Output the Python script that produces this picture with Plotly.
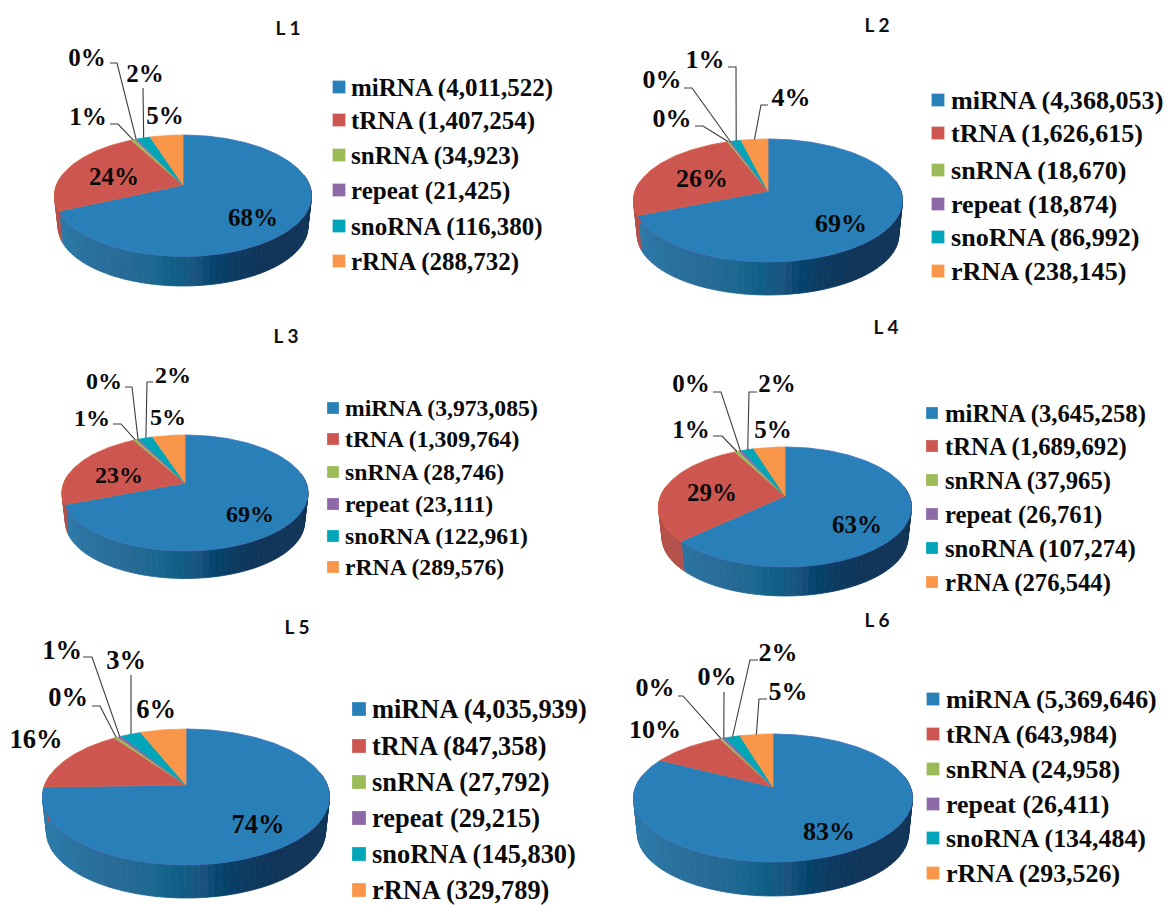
import numpy as np
import plotly.graph_objects as go

categories = ["miRNA", "tRNA", "snRNA", "repeat", "snoRNA", "rRNA"]
panel_names = ["L 1", "L 2", "L 3", "L 4", "L 5", "L 6"]

counts_l1 = [4011522, 1407254, 34923, 21425, 116380, 288732]
counts_l2 = [4368053, 1626615, 18670, 18874, 86992, 238145]
counts_l3 = [3973085, 1309764, 28746, 23111, 122961, 289576]
counts_l4 = [3645258, 1689692, 37965, 26761, 107274, 276544]
counts_l5 = [4035939, 847358, 27792, 29215, 145830, 329789]
counts_l6 = [5369646, 643984, 24958, 26411, 134484, 293526]

percent_l1 = [68, 24, 1, 0, 2, 5]
percent_l2 = [69, 26, 0, 0, 1, 4]
percent_l3 = [69, 23, 1, 0, 2, 5]
percent_l4 = [63, 29, 1, 0, 2, 5]
percent_l5 = [74, 16, 0, 1, 3, 6]
percent_l6 = [83, 10, 0, 0, 2, 5]

all_counts = [counts_l1, counts_l2, counts_l3, counts_l4, counts_l5, counts_l6]
all_percent = [percent_l1, percent_l2, percent_l3, percent_l4, percent_l5, percent_l6]

TOP_COLORS = ["#2980b9", "#cd5750", "#9bbb59", "#8e69a8", "#00a6b8", "#f9964a"]
EDGE_COLORS = ["#3f72bd", "#d9603f", "#9bbb59", "#8e69a8", "#00a6b8", "#f9964a"]
SIDE_FLAT = [None, "#b5504a", "#7d9a45", "#6f5285", "#008593", "#c9783a"]
# Wall shading for the large slice, left to right across the pie
BLUE_STOPS_T = [0.0, 0.12, 0.25, 0.38, 0.47, 0.55, 0.62, 0.7, 0.8, 1.0]
BLUE_STOPS = ["#2c7aa9", "#2a729f", "#2a6b98", "#1c6890", "#0f5f86", "#1c5580",
              "#04456d", "#0e3b62", "#10365a", "#103558"]
SERIF = "Liberation Serif"
# Baseline correction for the bold serif labels
TEXT_NUDGE = 2.5

# Pie geometry: apex, outer extents of the top face, and lowest point of the wall
panels = [
    dict(ax=183, ay=185, left=54.5, right=311.5, top=135, bot=256.5, wall=286, fs=25, pfs=25,
         title=(288, 30), sq_x=339, sq=13, tx=351, ly=[87, 120, 155, 190, 226, 261],
         labels=[(253, 217), (114, 176), (88, 116), (87, 57), (145, 73), (165, 115)],
         leaders={2: [(110, 124), (118, 124)], 3: [(110, 63), (117, 63)], 4: [(143, 88)]}),
    dict(ax=768, ay=191, left=634, right=903, top=139, bot=262, wall=295, fs=26.1, pfs=26,
         title=(877, 27), sq_x=938, sq=13, tx=951, ly=[100, 133, 170, 204, 237, 271],
         labels=[(841, 223), (702, 178), (672, 118), (662, 79), (705, 59), (791, 97)],
         leaders={2: [(695, 126), (703, 126)], 3: [(684, 88), (692, 88)],
                  4: [(728, 67), (736, 67)], 5: [(768, 105), (761, 105)]}),
    dict(ax=185, ay=483, left=62, right=308, top=435, bot=551, wall=578.5, fs=23.7, pfs=24,
         title=(286, 338), sq_x=333, sq=12, tx=345, ly=[408, 439, 472, 504, 536, 567],
         labels=[(250, 513), (119, 474), (92, 417), (104, 380), (173, 374), (168, 416)],
         leaders={2: [(113, 424), (121, 424)], 3: [(125, 387), (132, 387)],
                  4: [(153, 382), (147, 382)]}),
    dict(ax=785, ay=496, left=658, right=911, top=447, bot=567, wall=596, fs=24.7, pfs=25,
         title=(886, 329), sq_x=932, sq=12, tx=945, ly=[413, 446, 480, 514, 548, 582],
         labels=[(857, 524), (712, 492), (691, 429), (691, 383), (777, 383), (773, 429)],
         leaders={2: [(713, 436), (722, 436)], 3: [(713, 392), (721, 392)],
                  4: [(757, 392), (749, 392)]}),
    dict(ax=186, ay=785, left=43, right=330, top=729, bot=865, wall=898, fs=26.4, pfs=26.5,
         title=(297, 629), sq_x=359, sq=14, tx=372, ly=[709, 746, 782, 818, 854, 890],
         labels=[(258, 824), (36, 739), (68, 697), (62, 650), (126, 660), (156, 709)],
         leaders={2: [(92, 706), (100, 706)], 3: [(83, 657), (92, 657)], 4: [(131, 675)]}),
    dict(ax=773, ay=787, left=634, right=913, top=734, bot=862, wall=896, fs=25.9, pfs=26,
         title=(877, 622), sq_x=933, sq=13, tx=946, ly=[699, 734, 769, 804, 838, 873],
         labels=[(829, 831), (655, 729), (655, 687), (717, 676), (778, 652), (788, 691)],
         leaders={2: [(678, 696), (683, 696)], 3: [(724, 692)],
                  4: [(758, 660), (750, 660)], 5: [(767, 699), (759, 699)]}),
]


def hex_rgb(c):
    return np.array([int(c[i:i + 2], 16) for i in (1, 3, 5)], dtype=float)


def ramp_colour(t):
    channels = [np.interp(t, BLUE_STOPS_T, [hex_rgb(c)[i] for c in BLUE_STOPS]) for i in range(3)]
    return "rgb(%d,%d,%d)" % tuple(channels)


class Projection:
    """Perspective view of a circular disc, theta clockwise from twelve o'clock."""

    def __init__(self, p):
        self.ax, self.ay = p["ax"], p["ay"]
        up, down = p["ay"] - p["top"], p["bot"] - p["ay"]
        self.k = (down - up) / (down + up)
        self.s = up * (1 + self.k)
        half = (p["right"] - p["left"]) / 2
        self.r = half * np.sqrt(1 - self.k ** 2)
        self.shrink = 0.972
        self.drop = p["wall"] - p["ay"] - self.shrink * down

    def top(self, th):
        w = 1 + self.k * np.cos(th)
        return self.ax + self.r * np.sin(th) / w, self.ay - self.s * np.cos(th) / w

    def base(self, th):
        w = 1 + self.k * np.cos(th)
        return (self.ax + self.shrink * self.r * np.sin(th) / w,
                self.ay + self.drop - self.shrink * self.s * np.cos(th) / w)


fig = go.Figure()


def add_polygon(xs, ys, fill, line, width):
    fig.add_trace(go.Scatter(x=list(xs), y=list(ys), mode="lines", fill="toself", fillcolor=fill,
                             line=dict(color=line, width=width), hoverinfo="skip"))


for p, values, pct, name in zip(panels, all_counts, all_percent, panel_names):
    proj = Projection(p)
    fractions = np.array(values, dtype=float) / sum(values)
    edges = np.concatenate([[0.0], np.cumsum(fractions)]) * 2 * np.pi

    # Outer wall, drawn first so the top face covers its upper edge
    wall_lo, wall_hi = np.radians(80), np.radians(280)
    for i in range(len(values)):
        a, b = max(edges[i], wall_lo), min(edges[i + 1], wall_hi)
        if b <= a:
            continue
        n = max(1, int(np.degrees(b - a) / 2.5))
        steps = np.linspace(a, b, n + 1)
        for t0, t1 in zip(steps[:-1], steps[1:]):
            x0, y0 = proj.top(np.array([t0, t1]))
            x1, y1 = proj.base(np.array([t1, t0]))
            mid_x = proj.top((t0 + t1) / 2)[0]
            frac = (mid_x - p["left"]) / (p["right"] - p["left"])
            colour = ramp_colour(frac) if i == 0 else SIDE_FLAT[i]
            add_polygon(np.r_[x0, x1, x0[0]], np.r_[y0, y1, y0[0]], colour, colour, 0.8)

    # Top face, one wedge per category
    for i in range(len(values)):
        n = max(2, int(np.degrees(edges[i + 1] - edges[i])))
        x, y = proj.top(np.linspace(edges[i], edges[i + 1], n + 1))
        add_polygon(np.r_[p["ax"], x, p["ax"]], np.r_[p["ay"], y, p["ay"]],
                    TOP_COLORS[i], EDGE_COLORS[i], 0.8)

    # Leader lines end on the rim at the middle of their slice
    for i, elbow in p["leaders"].items():
        ex, ey = proj.top((edges[i] + edges[i + 1]) / 2)
        pts = elbow + [(float(ex), float(ey))]
        fig.add_trace(go.Scatter(x=[q[0] for q in pts], y=[q[1] for q in pts], mode="lines",
                                 line=dict(color="#3c3c3c", width=1.1), hoverinfo="skip"))

    # Percentage labels
    fig.add_trace(go.Scatter(x=[q[0] for q in p["labels"]],
                             y=[q[1] + TEXT_NUDGE for q in p["labels"]],
                             mode="text", text=[f"{v}%" for v in pct], textposition="middle center",
                             textfont=dict(family=SERIF, size=p["pfs"], color="#0a0a0a", weight=700),
                             hoverinfo="skip"))

    # Key: square swatches and labelled counts
    fig.add_trace(go.Scatter(x=[p["sq_x"]] * len(values), y=p["ly"], mode="markers",
                             marker=dict(symbol="square", size=p["sq"], color=TOP_COLORS,
                                         line=dict(color="rgba(255,255,255,0.5)", width=0.5)),
                             hoverinfo="skip"))
    fig.add_trace(go.Scatter(x=[p["tx"]] * len(values), y=[v + TEXT_NUDGE for v in p["ly"]],
                             mode="text",
                             text=[f"{c} ({v:,})" for c, v in zip(categories, values)],
                             textposition="middle right",
                             textfont=dict(family=SERIF, size=p["fs"], color="#0a0a0a", weight=700),
                             hoverinfo="skip"))

    # Panel title
    fig.add_trace(go.Scatter(x=[p["title"][0]], y=[p["title"][1]], mode="text", text=[name],
                             textposition="middle center",
                             textfont=dict(family="Lato", size=19, color="#111111", weight=700),
                             hoverinfo="skip"))

fig.update_layout(
    width=1164, height=905, autosize=False, showlegend=False,
    margin=dict(l=0, r=0, t=0, b=0), paper_bgcolor="white", plot_bgcolor="white",
    xaxis=dict(range=[0, 1164], visible=False, fixedrange=True),
    yaxis=dict(range=[905, 0], visible=False, fixedrange=True),
)
fig.write_html("out.html", config=dict(displayModeBar=False))
